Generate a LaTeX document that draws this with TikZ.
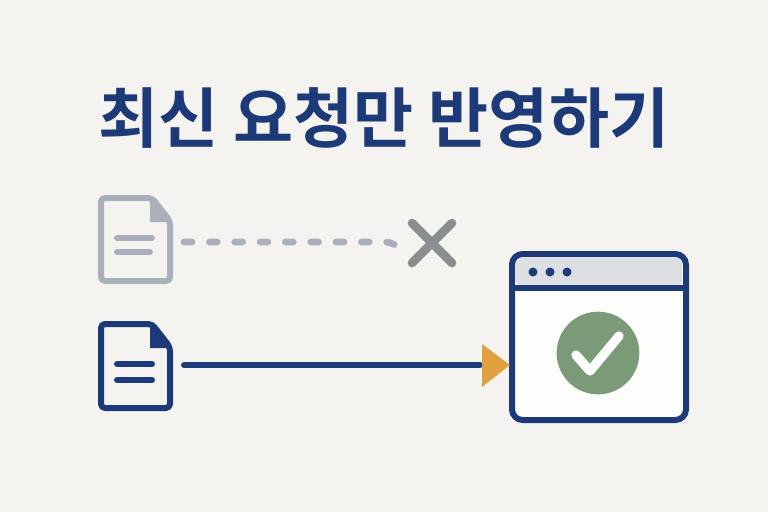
\documentclass[tikz,border=0pt]{standalone}
\usepackage{fontspec}
\newfontfamily\cjk{Noto Sans CJK KR}[BoldFont={* Bold}]
\usetikzlibrary{positioning}
\definecolor{navy}{HTML}{1D3A78}
\definecolor{paleblue}{HTML}{A9AFBB}
\definecolor{crossgray}{HTML}{8A8E90}
\definecolor{bg}{HTML}{F5F3EF}
\definecolor{bar}{HTML}{DDE0E3}
\definecolor{okgreen}{HTML}{7A9A78}
\definecolor{tip}{HTML}{E0A040}
\begin{document}
\begin{tikzpicture}[x=0.75pt,y=-0.75pt,
	doc/.style={line width=4.5pt,line join=round,rounded corners=3pt},
	docline/.style={line width=4.5pt,line cap=round}]
				\fill[bg] (0,0) rectangle (768,512);
				\useasboundingbox (0,0) rectangle (768,512);
				\node (title) at (384,118) {\cjk\bfseries\fontsize{49}{55}\selectfont\color{navy}최신 요청만 반영하기};
				% old request
				\draw[doc,paleblue] (101,198) -- (152,198) -- (170,221) -- (170,281) -- (101,281) -- cycle;
				\fill[paleblue] (150,199) -- (169,222) -- (150,222) -- cycle;
				\draw[docline,paleblue] (117,238) -- (152,238);
				\draw[docline,paleblue] (117,252) -- (150,252);
				\coordinate (oldend) at (184,242);
				\coordinate (stop) at (401,252);
				\draw[line width=5pt,line cap=round,paleblue,dash pattern=on 6pt off 13pt] (oldend) -- (385,242) to[out=0,in=120] (stop);
				\node (cross) at (432,243) {};
				\draw[line width=6.5pt,line cap=round,crossgray] (412,223) -- (452,263) (452,223) -- (412,263);
				% new request
				\draw[doc,navy] (101,324) -- (152,324) -- (170,347) -- (170,408) -- (101,408) -- cycle;
				\fill[navy] (150,325) -- (169,348) -- (150,348) -- cycle;
				\draw[docline,navy] (117,364) -- (152,364);
				\draw[docline,navy] (117,380) -- (152,380);
				\coordinate (newend) at (184,365);
				% window
				\draw[line width=4.5pt,navy,fill=white!80!bg,rounded corners=8pt] (512,254) rectangle (686,420);
				\fill[bar,rounded corners=4pt] (516,258) rectangle (682,286);
				\draw[line width=4.5pt,navy] (512,288) -- (686,288);
				\foreach \dx in {533,550,567} \fill[navy] (\dx,272) circle (4.5);
				\node[circle,fill=okgreen,minimum size=62pt] (ok) at (598,353) {};
				\draw[white,line width=7pt,line cap=round,line join=round] (576,355) -- (590,371) -- (619,336);
				\draw[line width=4.5pt,line cap=round,navy] (newend) -- (480,365);
				\fill[tip] (482,344) -- (510,365) -- (482,387) -- cycle;
			\end{tikzpicture}
\end{document}
